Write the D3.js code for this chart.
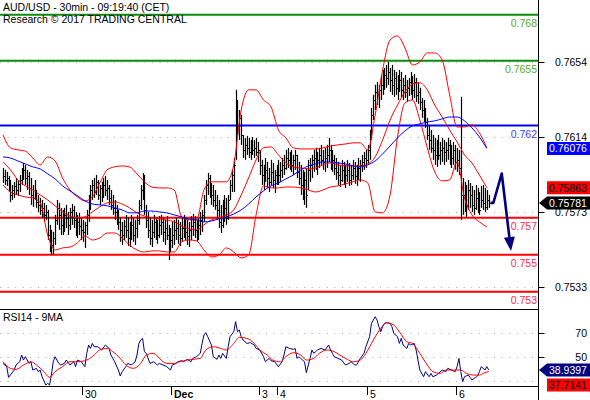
<!DOCTYPE html>
<html>
<head>
<meta charset="utf-8">
<script src="https://cdnjs.cloudflare.com/ajax/libs/d3/7.8.5/d3.min.js"></script>
<style>
  body { margin: 0; background: white; }
  text { font-family: Arial, "Liberation Sans", sans-serif; }
</style>
</head>
<body>
<div id="dataviz"></div>
<script>
// ---- data (AUD/USD, 30 min bars) ----
var highs = [
  0.75970,0.75960,0.75949,0.75927,0.75905,0.75878,0.75895,0.75916,0.75905,0.75932,
  0.75970,0.75997,0.75987,0.75960,0.75949,0.75916,0.75878,0.75905,0.75851,0.75824,
  0.75808,0.75797,0.75781,0.75770,0.75743,0.75662,0.75635,0.75624,0.75716,0.75797,
  0.75781,0.75754,0.75743,0.75754,0.75770,0.75732,0.75754,0.75775,0.75765,0.75732,
  0.75716,0.75727,0.75700,0.75689,0.75678,0.75743,0.75824,0.75878,0.75905,0.75916,
  0.75932,0.75905,0.75878,0.75895,0.75916,0.75927,0.75905,0.75878,0.75851,0.75824,
  0.75797,0.75770,0.75743,0.75700,0.75678,0.75689,0.75716,0.75700,0.75678,0.75716,
  0.75700,0.75689,0.75716,0.75797,0.75878,0.75943,0.75932,0.75770,0.75732,0.75700,
  0.75689,0.75716,0.75700,0.75689,0.75710,0.75716,0.75700,0.75689,0.75710,0.75662,
  0.75645,0.75678,0.75689,0.75700,0.75689,0.75678,0.75700,0.75716,0.75700,0.75689,
  0.75678,0.75710,0.75721,0.75710,0.75689,0.75700,0.75732,0.75743,0.75824,0.75905,
  0.75943,0.75932,0.75889,0.75878,0.75851,0.75824,0.75797,0.75770,0.75797,0.75824,
  0.75808,0.75824,0.75905,0.75960,0.76024,0.76393,0.76338,0.76284,0.76257,0.76149,
  0.76133,0.76144,0.76133,0.76122,0.76138,0.76122,0.76133,0.76111,0.76068,0.76014,
  0.75987,0.76024,0.76003,0.75970,0.76014,0.75997,0.75960,0.75987,0.76014,0.76003,
  0.76024,0.76041,0.76068,0.76079,0.76057,0.76068,0.76041,0.76068,0.76041,0.76003,
  0.75987,0.75960,0.75949,0.75970,0.76014,0.76024,0.76041,0.76068,0.76079,0.76057,
  0.76079,0.76095,0.76068,0.76079,0.76095,0.76133,0.76095,0.76068,0.76041,0.76024,
  0.76003,0.75987,0.76014,0.76003,0.75987,0.76014,0.75997,0.75987,0.76014,0.76003,
  0.75987,0.76024,0.76014,0.76041,0.76057,0.76068,0.76095,0.76176,0.76295,0.76366,
  0.76420,0.76436,0.76420,0.76474,0.76501,0.76512,0.76528,0.76544,0.76512,0.76528,
  0.76501,0.76490,0.76474,0.76501,0.76490,0.76458,0.76474,0.76447,0.76458,0.76490,
  0.76468,0.76479,0.76458,0.76436,0.76404,0.76349,0.76338,0.76295,0.76241,0.76203,
  0.76176,0.76149,0.76133,0.76122,0.76149,0.76111,0.76133,0.76122,0.76111,0.76133,
  0.76122,0.76095,0.76111,0.76095,0.76079,0.76068,0.76355,0.75916,0.75895,0.75878,
  0.75905,0.75889,0.75873,0.75851,0.75878,0.75862,0.75840,0.75873,0.75878,0.75862,
  0.75851,0.75824];
var lows = [
  0.75889,0.75878,0.75873,0.75840,0.75786,0.75797,0.75808,0.75824,0.75819,0.75840,
  0.75878,0.75905,0.75878,0.75851,0.75824,0.75770,0.75759,0.75797,0.75754,0.75732,
  0.75716,0.75700,0.75678,0.75689,0.75580,0.75515,0.75499,0.75505,0.75553,0.75662,
  0.75635,0.75607,0.75607,0.75624,0.75645,0.75607,0.75635,0.75662,0.75645,0.75602,
  0.75591,0.75607,0.75580,0.75570,0.75537,0.75607,0.75678,0.75743,0.75797,0.75808,
  0.75824,0.75797,0.75770,0.75786,0.75808,0.75819,0.75797,0.75770,0.75743,0.75716,
  0.75689,0.75662,0.75635,0.75570,0.75553,0.75580,0.75591,0.75548,0.75542,0.75580,
  0.75570,0.75553,0.75591,0.75662,0.75743,0.75797,0.75716,0.75645,0.75591,0.75553,
  0.75542,0.75591,0.75580,0.75559,0.75591,0.75607,0.75570,0.75553,0.75580,0.75472,
  0.75515,0.75537,0.75553,0.75580,0.75559,0.75548,0.75570,0.75591,0.75580,0.75553,
  0.75542,0.75580,0.75602,0.75591,0.75570,0.75580,0.75607,0.75624,0.75678,0.75770,
  0.75824,0.75808,0.75770,0.75759,0.75743,0.75689,0.75645,0.75618,0.75645,0.75678,
  0.75662,0.75689,0.75797,0.75840,0.75840,0.76014,0.76149,0.76122,0.76095,0.76024,
  0.76014,0.76041,0.76024,0.76014,0.76041,0.76024,0.76035,0.76003,0.75932,0.75878,
  0.75851,0.75895,0.75862,0.75840,0.75878,0.75862,0.75835,0.75878,0.75878,0.75895,
  0.75916,0.75932,0.75960,0.75970,0.75960,0.75949,0.75932,0.75960,0.75916,0.75878,
  0.75824,0.75797,0.75770,0.75754,0.75851,0.75895,0.75916,0.75949,0.75960,0.75932,
  0.75970,0.75987,0.75960,0.75949,0.75970,0.76003,0.75960,0.75949,0.75932,0.75905,
  0.75878,0.75867,0.75895,0.75878,0.75862,0.75895,0.75873,0.75878,0.75905,0.75884,
  0.75873,0.75905,0.75895,0.75949,0.75960,0.75970,0.75987,0.76014,0.76122,0.76230,
  0.76284,0.76311,0.76295,0.76338,0.76366,0.76393,0.76404,0.76420,0.76382,0.76366,
  0.76355,0.76366,0.76338,0.76382,0.76349,0.76338,0.76349,0.76328,0.76360,0.76366,
  0.76338,0.76349,0.76328,0.76317,0.76284,0.76241,0.76219,0.76187,0.76122,0.76068,
  0.76052,0.76014,0.75987,0.75976,0.76014,0.75987,0.76003,0.75987,0.76003,0.76014,
  0.75987,0.75970,0.75987,0.75960,0.75949,0.75932,0.75689,0.75716,0.75732,0.75705,
  0.75743,0.75754,0.75732,0.75716,0.75743,0.75727,0.75716,0.75754,0.75743,0.75732,
  0.75743,0.75754];
var closes = [
  0.75927,0.75905,0.75916,0.75862,0.75824,0.75851,0.75873,0.75851,0.75884,0.75905,
  0.75949,0.75960,0.75916,0.75927,0.75862,0.75824,0.75808,0.75824,0.75786,0.75770,
  0.75743,0.75754,0.75716,0.75732,0.75607,0.75580,0.75553,0.75591,0.75689,0.75754,
  0.75716,0.75662,0.75678,0.75716,0.75700,0.75662,0.75732,0.75743,0.75689,0.75645,
  0.75678,0.75656,0.75635,0.75624,0.75662,0.75716,0.75797,0.75851,0.75878,0.75840,
  0.75895,0.75824,0.75862,0.75819,0.75878,0.75851,0.75862,0.75808,0.75770,0.75754,
  0.75732,0.75700,0.75678,0.75635,0.75607,0.75656,0.75635,0.75591,0.75624,0.75662,
  0.75607,0.75645,0.75689,0.75770,0.75851,0.75905,0.75743,0.75689,0.75635,0.75591,
  0.75624,0.75678,0.75635,0.75607,0.75662,0.75678,0.75624,0.75645,0.75607,0.75553,
  0.75580,0.75607,0.75635,0.75645,0.75607,0.75591,0.75645,0.75662,0.75624,0.75602,
  0.75635,0.75656,0.75678,0.75635,0.75607,0.75662,0.75689,0.75716,0.75797,0.75878,
  0.75916,0.75851,0.75824,0.75797,0.75770,0.75743,0.75678,0.75662,0.75716,0.75754,
  0.75700,0.75797,0.75878,0.75932,0.75987,0.76257,0.76203,0.76241,0.76149,0.76068,
  0.76095,0.76079,0.76057,0.76095,0.76068,0.76079,0.76057,0.76068,0.75987,0.75932,
  0.75905,0.75960,0.75916,0.75895,0.75949,0.75905,0.75932,0.75960,0.75932,0.75960,
  0.75987,0.75970,0.76024,0.76014,0.76003,0.75987,0.76014,0.76041,0.75949,0.75916,
  0.75878,0.75840,0.75905,0.75824,0.75960,0.75987,0.76014,0.76024,0.76003,0.76014,
  0.76041,0.76014,0.76003,0.76024,0.76041,0.76068,0.75987,0.76014,0.75970,0.75949,
  0.75932,0.75905,0.75960,0.75916,0.75932,0.75960,0.75905,0.75932,0.75970,0.75927,
  0.75949,0.75970,0.75987,0.76003,0.76024,0.76014,0.76068,0.76149,0.76257,0.76338,
  0.76382,0.76366,0.76393,0.76420,0.76447,0.76474,0.76458,0.76490,0.76447,0.76420,
  0.76458,0.76404,0.76420,0.76447,0.76393,0.76420,0.76382,0.76404,0.76436,0.76420,
  0.76393,0.76436,0.76366,0.76382,0.76328,0.76284,0.76257,0.76219,0.76149,0.76122,
  0.76079,0.76068,0.76041,0.76079,0.76041,0.76068,0.76079,0.76057,0.76068,0.76095,
  0.76041,0.76024,0.76068,0.76003,0.76014,0.75970,0.75824,0.75824,0.75797,0.75770,
  0.75851,0.75824,0.75770,0.75754,0.75808,0.75770,0.75743,0.75797,0.75781,0.75759,
  0.75797,0.75781];

// Bollinger bands (20) and long moving average, one reading every 4 bars
var bandStep = 4;
var bbUpper = [
  0.76149,0.76079,0.76068,0.76062,0.76024,0.75987,0.76030,0.76008,0.75916,0.75851,
  0.75813,0.75792,0.75813,0.75889,0.75960,0.75976,0.75981,0.75976,0.75938,0.75895,
  0.75867,0.75862,0.75862,0.75851,0.75705,0.75689,0.75689,0.75851,0.75895,0.75895,
  0.75895,0.75987,0.76284,0.76393,0.76393,0.76338,0.76301,0.76176,0.76133,0.76079,
  0.76073,0.76073,0.76073,0.76079,0.76089,0.76095,0.76100,0.76106,0.76106,0.76068,
  0.76257,0.76501,0.76663,0.76685,0.76620,0.76528,0.76544,0.76593,0.76593,0.76555,
  0.76366,0.76192,0.76192,0.76203,0.76160,0.76079];
var bbMiddle = [
  0.76003,0.75960,0.75905,0.75873,0.75851,0.75824,0.75797,0.75765,0.75732,0.75710,
  0.75700,0.75705,0.75732,0.75759,0.75781,0.75786,0.75775,0.75754,0.75727,0.75710,
  0.75700,0.75694,0.75689,0.75678,0.75656,0.75640,0.75635,0.75662,0.75689,0.75700,
  0.75716,0.75743,0.75824,0.75916,0.76014,0.76079,0.76084,0.76041,0.75997,0.75976,
  0.75970,0.75965,0.75970,0.75987,0.75997,0.75987,0.75981,0.75981,0.75981,0.75992,
  0.76030,0.76122,0.76230,0.76311,0.76382,0.76425,0.76431,0.76393,0.76311,0.76246,
  0.76176,0.76111,0.76041,0.75997,0.75932,0.75863];
var bbLower = [
  0.75878,0.75840,0.75824,0.75813,0.75808,0.75781,0.75607,0.75526,0.75537,0.75542,
  0.75564,0.75602,0.75580,0.75591,0.75618,0.75618,0.75591,0.75553,0.75526,0.75515,
  0.75521,0.75521,0.75515,0.75515,0.75570,0.75580,0.75575,0.75526,0.75488,0.75499,
  0.75537,0.75515,0.75483,0.75499,0.75716,0.75873,0.75862,0.75862,0.75867,0.75867,
  0.75862,0.75851,0.75840,0.75851,0.75867,0.75873,0.75884,0.75895,0.75905,0.75889,
  0.75732,0.75727,0.75824,0.76138,0.76322,0.76338,0.76230,0.76079,0.75949,0.75900,
  0.75905,0.76003,0.75808,0.75716,0.75678,0.75651];
var maLong = [
  0.76030,0.76024,0.76008,0.75992,0.75976,0.75965,0.75938,0.75911,0.75873,0.75846,
  0.75819,0.75792,0.75775,0.75770,0.75765,0.75754,0.75743,0.75727,0.75727,0.75737,
  0.75737,0.75732,0.75727,0.75716,0.75705,0.75694,0.75689,0.75678,0.75683,0.75694,
  0.75705,0.75721,0.75743,0.75775,0.75813,0.75846,0.75873,0.75889,0.75911,0.75932,
  0.75960,0.75981,0.75992,0.76003,0.76003,0.75997,0.75992,0.75981,0.75976,0.75987,
  0.76008,0.76046,0.76089,0.76133,0.76171,0.76198,0.76209,0.76219,0.76225,0.76236,
  0.76246,0.76246,0.76225,0.76187,0.76138,0.76076];

// RSI(14) and its 9 period MA : [bar, value]
var rsiPoints = [
  [0,44.4],[2,41.7],[3,32.8],[6,38.9],[7,43.1],[9,45.8],[10,51.4],[11,47.2],[12,50],[14,44.4],
  [15,45.8],[16,38.9],[18,40.3],[19,37.5],[20,38.9],[21,33.3],[23,26.4],[24,27.8],[25,26.4],[26,34.7],
  [27,45.8],[28,50],[30,44.4],[31,43.1],[33,44.4],[34,47.2],[36,43.1],[38,45.8],[39,41.7],[40,47.2],
  [42,45.8],[44,41.7],[45,52.8],[46,59.7],[47,56.9],[48,61.1],[49,58.3],[51,58.3],[53,55.6],[55,59.7],
  [57,56.9],[58,51.4],[60,45.8],[62,38.9],[63,33.9],[64,37.5],[66,41.7],[67,44.4],[69,43.1],[71,45.8],
  [72,51.4],[73,61.1],[74,63.9],[75,65.3],[76,54.2],[77,52.8],[79,44.4],[81,45.8],[83,43.1],[84,44.4],
  [86,43.1],[88,41.7],[90,38.9],[91,43.1],[93,44.4],[94,45.8],[96,46.7],[97,45.8],[99,47.8],[101,45.8],
  [102,48.6],[104,50],[106,52.8],[107,61.1],[108,68.1],[109,70],[110,66.7],[112,59.7],[113,50],[115,47.8],
  [116,51.4],[117,48.6],[118,52.8],[120,48.6],[121,58.3],[122,66.7],[124,70.8],[125,79.2],[126,70.8],[127,72.2],
  [128,66.7],[129,63.9],[131,61.1],[133,61.7],[135,59.7],[136,56.9],[138,55.6],[140,50],[141,45.8],[143,48.6],
  [144,46.7],[146,45.8],[148,41.7],[150,45.8],[151,51.4],[152,58.3],[154,56.9],[156,56.1],[157,56.9],[158,48.6],
  [159,50],[161,47.2],[162,45.8],[163,36.7],[165,48.6],[166,55.6],[167,52.8],[168,54.2],[169,55.6],[171,56.9],
  [173,55.6],[175,59.7],[176,55.6],[177,52.8],[178,50],[180,48.6],[182,47.2],[184,43.1],[186,44.4],[187,45.8],
  [189,43.1],[190,43.1],[192,48.6],[194,52.8],[195,58.3],[197,66.7],[198,77.8],[199,80.6],[200,83.3],[201,80.6],
  [202,75],[203,70.8],[204,75],[205,77.8],[206,78.3],[208,77.8],[209,75],[210,69.4],[212,66.7],[213,61.1],
  [214,65.3],[215,59.7],[217,56.9],[218,61.1],[219,59.7],[221,61.1],[222,55.6],[223,47.2],[224,38.9],[226,33.3],
  [227,37.5],[229,33.3],[230,36.1],[231,33.3],[233,34.7],[234,36.1],[236,38.9],[238,37.5],[239,40.3],[241,38.9],
  [243,37.5],[244,41.7],[245,48.6],[246,37.5],[247,29.2],[248,33.3],[250,34.7],[251,32.8],[252,30.6],[254,32.8],
  [255,33.9],[256,37.5],[257,41.7],[259,38.9],[260,41.7],[261,38.9397]];
var rsiMaPoints = [
  [0,45.8],[4,40.3],[7,39.4],[11,43.1],[15,45.8],[18,43.1],[22,37.5],[25,32.8],[28,37.5],[32,41.7],
  [36,45.8],[40,45.8],[45,47.2],[49,51.4],[52,55.6],[56,56.9],[59,54.2],[63,48.6],[66,43.1],[70,40.3],
  [74,44.4],[77,51.4],[81,52.8],[84,48.6],[88,44.4],[92,44.4],[95,45.8],[99,47.2],[102,47.8],[106,48.6],
  [109,55.6],[113,58.3],[117,56.9],[120,55.6],[124,61.1],[127,66.1],[131,65.3],[135,61.1],[138,55.6],[142,51.4],
  [145,47.2],[149,45.8],[152,50],[156,53.3],[160,51.4],[163,47.2],[167,48.6],[170,52.8],[174,55.6],[178,54.2],
  [181,51.4],[185,47.8],[188,45.8],[192,47.2],[195,52.8],[199,63.9],[203,73.6],[206,78.3],[210,76.4],[213,70.8],
  [217,62.5],[220,61.1],[224,52.8],[228,43.1],[231,37.5],[235,36.1],[238,38.9],[242,38.9],[246,38.9],[249,36.1],
  [253,34.7],[256,34.7],[258,36.1],[261,37.7141]];

// key levels
var levels = [0.768, 0.7655, 0.762, 0.757, 0.755, 0.753];
var levelKinds = ["target", "target", "pivot", "support", "support", "support"];

// axes
var priceTicks = [0.76545, 0.76138, 0.75731, 0.75325];
var priceTickLabels = ["0.7654", "0.7614", "0.7573", "0.7533"];
var rsiTicks = [70, 50];
var rsiGrid = [70, 50, 30];
var timeTicks = [42.5, 90.5, 137.5, 147.5, 195.5, 243.5];
var timeLabels = ["30", "Dec", "3", "4", "5", "6"];

// forecast path
var forecastBars = [262, 263.5, 268, 273];
var forecastPrices = [0.75781, 0.75781, 0.7594, 0.7552];

// ---- drawing ----
var width = 590, height = 400;
var axisX = 538.5, priceBottom = 309.5, rsiBottom = 386.5;

var levelColor = { target: "#0a8c0a", pivot: "#0000ff", support: "#ff0000" };
var levelTextColor = { target: "#5aa81e", pivot: "#3a3aff", support: "#ff2a45" };

var svg = d3.select("#dataviz")
  .append("svg")
    .attr("width", width)
    .attr("height", height)
    .style("background", "white");

var x = d3.scaleLinear().domain([0, highs.length - 1]).range([3, 488.7]);
var y = d3.scaleLinear().domain([0.753, 0.768]).range([291.7, 14.7]);
var yRsi = d3.scaleLinear().domain([30, 70]).range([380.7, 332.7]);

var defs = svg.append("defs");
defs.append("clipPath").attr("id", "clipPrice")
  .append("rect").attr("x", 0).attr("y", 0).attr("width", axisX).attr("height", priceBottom);
defs.append("clipPath").attr("id", "clipRsi")
  .append("rect").attr("x", 0).attr("y", priceBottom).attr("width", axisX).attr("height", rsiBottom - priceBottom);

var px = function(i) { return Math.round(x(i)) + 0.5; };

// dotted grid
var grid = svg.append("g");
grid.selectAll("line.pg")
  .data(priceTicks)
  .enter().append("line")
    .attr("x1", 0).attr("x2", axisX)
    .attr("y1", function(d) { return Math.round(y(d)) + 0.5; })
    .attr("y2", function(d) { return Math.round(y(d)) + 0.5; })
    .attr("stroke", "#a8a8a8").attr("stroke-dasharray", "1,6.6");
grid.selectAll("line.rg")
  .data(rsiGrid)
  .enter().append("line")
    .attr("x1", 0).attr("x2", axisX)
    .attr("y1", function(d) { return Math.round(yRsi(d)) + 0.5; })
    .attr("y2", function(d) { return Math.round(yRsi(d)) + 0.5; })
    .attr("stroke", "#a8a8a8").attr("stroke-dasharray", "1,6.6");

// key levels
var lv = svg.append("g");
lv.selectAll("line")
  .data(levels)
  .enter().append("line")
    .attr("x1", 0).attr("x2", axisX - 0.5)
    .attr("y1", function(d) { return y(d); })
    .attr("y2", function(d) { return y(d); })
    .attr("stroke", function(d, i) { return levelColor[levelKinds[i]]; })
    .attr("stroke-width", 2);
lv.selectAll("text")
  .data(levels)
  .enter().append("text")
    .attr("x", 537)
    .attr("y", function(d) { return y(d) + 12; })
    .attr("text-anchor", "end")
    .style("font-size", "10.5px")
    .attr("fill", function(d, i) { return levelTextColor[levelKinds[i]]; })
    .text(function(d) { return String(d); });

// price bars
var price = svg.append("g").attr("clip-path", "url(#clipPrice)");
price.selectAll("line.hl")
  .data(closes)
  .enter().append("line")
    .attr("x1", function(d, i) { return px(i); })
    .attr("x2", function(d, i) { return px(i); })
    .attr("y1", function(d, i) { return y(highs[i]); })
    .attr("y2", function(d, i) { return y(lows[i]); })
    .attr("stroke", "black").attr("stroke-width", 1.2);
price.selectAll("line.cl")
  .data(closes)
  .enter().append("line")
    .attr("x1", function(d, i) { return px(i); })
    .attr("x2", function(d, i) { return px(i) + 1.6; })
    .attr("y1", function(d) { return Math.round(y(d)) + 0.5; })
    .attr("y2", function(d) { return Math.round(y(d)) + 0.5; })
    .attr("stroke", "black").attr("stroke-width", 1);

// bands and moving average
var bandLine = d3.line()
  .x(function(d, i) { return x(i * bandStep); })
  .y(function(d) { return y(d); })
  .curve(d3.curveMonotoneX);
[bbUpper, bbMiddle, bbLower].forEach(function(s) {
  price.append("path").datum(s)
    .attr("d", bandLine)
    .attr("fill", "none").attr("stroke", "#ff0000").attr("stroke-width", 1);
});
price.append("path").datum(maLong)
  .attr("d", bandLine)
  .attr("fill", "none").attr("stroke", "#0000ff").attr("stroke-width", 1);

// forecast arrow
var fpts = forecastBars.map(function(b, i) { return [x(b), y(forecastPrices[i])]; });
var tip = fpts[fpts.length - 1], prev = fpts[fpts.length - 2];
var dx = tip[0] - prev[0], dy = tip[1] - prev[1], len = Math.sqrt(dx * dx + dy * dy);
var ux = dx / len, uy = dy / len, headL = 14, headW = 5.5;
var base = [tip[0] - ux * headL, tip[1] - uy * headL];
var shaft = fpts.slice(0, -1).concat([base]);
svg.append("path").datum(shaft)
  .attr("d", d3.line())
  .attr("fill", "none").attr("stroke", "#000080").attr("stroke-width", 2.6)
  .attr("stroke-linejoin", "round");
svg.append("path")
  .attr("d", "M" + tip[0] + "," + tip[1] +
             "L" + (base[0] - uy * headW) + "," + (base[1] + ux * headW) +
             "L" + (base[0] + uy * headW) + "," + (base[1] - ux * headW) + "Z")
  .attr("fill", "#000080");

// RSI panel
var rsi = svg.append("g").attr("clip-path", "url(#clipRsi)");
var rsiLine = d3.line()
  .x(function(d) { return x(d[0]); })
  .y(function(d) { return yRsi(d[1]); });
rsi.append("path").datum(rsiPoints)
  .attr("d", rsiLine)
  .attr("fill", "none").attr("stroke", "#000080").attr("stroke-width", 1);
rsi.append("path").datum(rsiMaPoints)
  .attr("d", rsiLine.curve(d3.curveMonotoneX))
  .attr("fill", "none").attr("stroke", "#ff0000").attr("stroke-width", 1);

// frame
svg.append("line").attr("x1", axisX).attr("x2", axisX).attr("y1", 0).attr("y2", height)
  .attr("stroke", "black");
svg.append("line").attr("x1", 0).attr("x2", axisX).attr("y1", priceBottom).attr("y2", priceBottom)
  .attr("stroke", "black");
svg.append("line").attr("x1", 0).attr("x2", axisX).attr("y1", rsiBottom).attr("y2", rsiBottom)
  .attr("stroke", "black");

// right axis ticks and labels
var ra = svg.append("g");
ra.selectAll("line.pt")
  .data(priceTicks)
  .enter().append("line")
    .attr("x1", axisX).attr("x2", axisX + 6)
    .attr("y1", function(d) { return Math.round(y(d)) + 0.5; })
    .attr("y2", function(d) { return Math.round(y(d)) + 0.5; })
    .attr("stroke", "black");
ra.selectAll("text.pt")
  .data(priceTicks)
  .enter().append("text")
    .attr("x", 587)
    .attr("y", function(d) { return y(d) + 4; })
    .attr("text-anchor", "end")
    .style("font-size", "10.5px")
    .text(function(d, i) { return priceTickLabels[i]; });
ra.selectAll("line.rt")
  .data(rsiTicks)
  .enter().append("line")
    .attr("x1", axisX).attr("x2", axisX + 6)
    .attr("y1", function(d) { return Math.round(yRsi(d)) + 0.5; })
    .attr("y2", function(d) { return Math.round(yRsi(d)) + 0.5; })
    .attr("stroke", "black");
ra.selectAll("text.rt")
  .data(rsiTicks)
  .enter().append("text")
    .attr("x", 587)
    .attr("y", function(d) { return yRsi(d) + 4; })
    .attr("text-anchor", "end")
    .style("font-size", "10.5px")
    .text(function(d) { return d; });

// value tags on the right
function tag(value, cy, fill, color, arrow, label) {
  var top = cy - 6.5, bot = cy + 6.5;
  var d = arrow
    ? "M539," + cy + "L547," + top + "H592V" + bot + "H547Z"
    : "M547," + top + "H592V" + bot + "H547Z";
  ra.append("path").attr("d", d).attr("fill", fill);
  ra.append("text")
    .attr("x", 549).attr("y", cy + 4)
    .style("font-size", "10.5px")
    .attr("fill", color)
    .text(label);
  return bot;
}
var f5 = d3.format(".5f"), f4 = d3.format(".4f");
tag(maLong[maLong.length - 1], y(maLong[maLong.length - 1]), "#0000ff", "white", false, f5(maLong[maLong.length - 1]));
tag(bbMiddle[bbMiddle.length - 1], y(bbMiddle[bbMiddle.length - 1]), "#ff0000", "black", false, f5(bbMiddle[bbMiddle.length - 1]));
tag(closes[closes.length - 1], y(closes[closes.length - 1]), "black", "white", true, f5(closes[closes.length - 1]));
var lastRsi = rsiPoints[rsiPoints.length - 1][1], lastRsiMa = rsiMaPoints[rsiMaPoints.length - 1][1];
var rsiBot = tag(lastRsi, yRsi(lastRsi), "#000080", "white", true, f4(lastRsi));
var cyMa = Math.max(yRsi(lastRsiMa), rsiBot + 8.5);
tag(lastRsiMa, cyMa, "#ff0000", "black", false, f4(lastRsiMa));

// time axis
var ta = svg.append("g");
ta.selectAll("line")
  .data(timeTicks)
  .enter().append("line")
    .attr("x1", function(d) { return Math.round(x(d)) + 0.5; })
    .attr("x2", function(d) { return Math.round(x(d)) + 0.5; })
    .attr("y1", rsiBottom).attr("y2", 395)
    .attr("stroke", "black");
ta.selectAll("text")
  .data(timeTicks)
  .enter().append("text")
    .attr("x", function(d) { return Math.round(x(d)) + 3; })
    .attr("y", 397.5)
    .style("font-size", "10.5px")
    .style("font-weight", function(d, i) { return timeLabels[i] === "Dec" ? "bold" : "normal"; })
    .text(function(d, i) { return timeLabels[i]; });

// titles
svg.append("text").attr("x", 3).attr("y", 10.5).style("font-size", "10.5px")
  .text("AUD/USD - 30min - 09:19:40 (CET)");
svg.append("text").attr("x", 3).attr("y", 23).style("font-size", "10.5px")
  .text("Research \u00a9 2017 TRADING CENTRAL");
svg.append("text").attr("x", 3).attr("y", 321).style("font-size", "10.5px")
  .text("RSI14 - 9MA");
</script>
</body>
</html>
